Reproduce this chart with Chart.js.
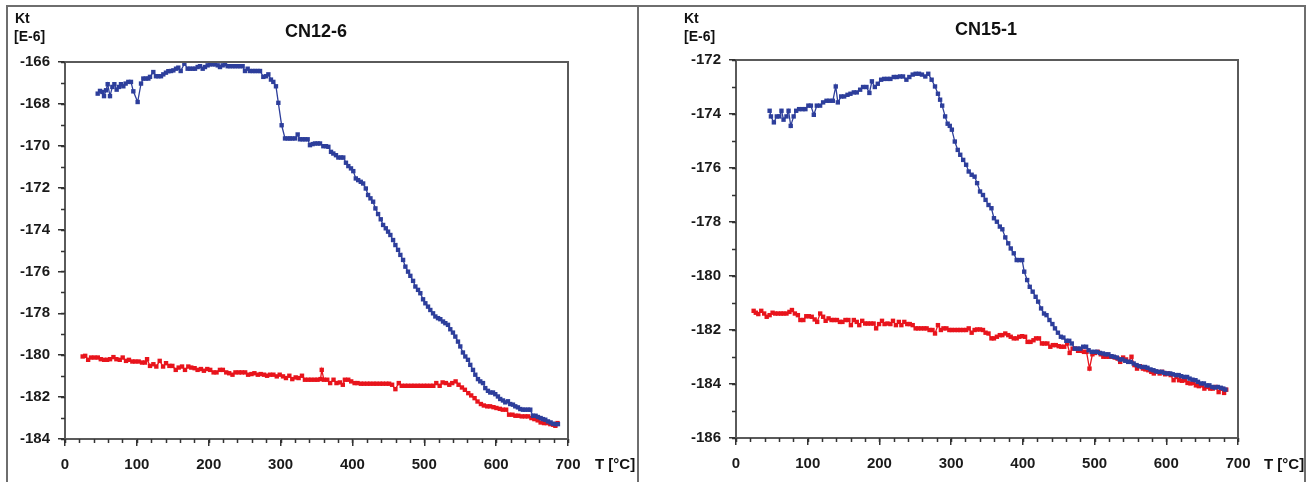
<!DOCTYPE html>
<html>
<head>
<meta charset="utf-8">
<script src="https://cdn.jsdelivr.net/npm/chart.js@4/dist/chart.umd.min.js"></script>
<style>
  html, body { margin:0; padding:0; background:#fff; }
  body { width:1316px; height:482px; position:relative; overflow:hidden; font-family:"Liberation Sans", Arial, sans-serif; }
  #frame { position:absolute; left:6px; top:5px; width:1300px; height:480px; border:2px solid #6e6e6e; border-bottom:none; box-sizing:border-box; }
  #sep { position:absolute; left:637px; top:5px; width:2px; height:477px; background:#6e6e6e; }
  canvas { position:absolute; top:0; }
  .t { position:absolute; color:#111; white-space:nowrap; line-height:1; }
  .title { font-size:18px; font-weight:bold; transform:translateX(-50%); }
  .unit { font-size:14px; font-weight:bold; }
  .xl { font-size:15px; font-weight:bold; }
</style>
</head>
<body>
<div id="frame"></div>
<div id="sep"></div>
<canvas id="c1" width="638" height="482" style="left:0px"></canvas>
<canvas id="c2" width="678" height="482" style="left:638px"></canvas>

<div class="t title" style="left:316px; top:22px;">CN12-6</div>
<div class="t unit" style="left:15px; top:11px;">Kt</div>
<div class="t unit" style="left:14px; top:29px;">[E-6]</div>
<div class="t xl" style="left:595px; top:456px;">T [°C]</div>

<div class="t title" style="left:986px; top:20px;">CN15-1</div>
<div class="t unit" style="left:684px; top:11px;">Kt</div>
<div class="t unit" style="left:684px; top:29px;">[E-6]</div>
<div class="t xl" style="left:1264px; top:456px;">T [°C]</div>

<script>
// ---------------- DATA ----------------
const titles = ["CN12-6", "CN15-1"];
const xTicks = [0, 100, 200, 300, 400, 500, 600, 700];
const yTicksLeft = [-184, -182, -180, -178, -176, -174, -172, -170, -168, -166];
const yTicksRight = [-186, -184, -182, -180, -178, -176, -174, -172];

// CN12-6, blue curve [T, Kt]
const blueLeft = [[45.5,-167.51],[48.7,-167.38],[52.0,-167.43],[54.3,-167.63],[57.1,-167.35],[59.4,-167.06],[62.6,-167.63],[65.9,-167.19],[68.7,-167.06],[71.9,-167.32],[75.1,-167.19],[77.9,-167.06],[81.2,-167.16],[84.4,-167.03],[88.1,-166.95],[91.8,-166.95],[95.1,-167.40],[101.1,-167.91],[105.8,-167.03],[109.0,-166.79],[112.3,-166.79],[116.0,-166.79],[118.3,-166.71],[122.9,-166.48],[126.6,-166.68],[129.9,-166.68],[133.6,-166.68],[136.8,-166.59],[140.5,-166.51],[143.8,-166.44],[147.5,-166.43],[150.8,-166.40],[154.5,-166.32],[157.7,-166.27],[161.0,-166.43],[166.1,-166.08],[170.7,-166.32],[174.0,-166.32],[177.7,-166.32],[180.9,-166.32],[184.6,-166.24],[187.9,-166.20],[191.6,-166.32],[194.8,-166.24],[198.5,-166.16],[201.8,-166.11],[205.5,-166.11],[208.7,-166.11],[212.5,-166.16],[215.7,-166.24],[219.4,-166.16],[222.7,-166.11],[226.4,-166.20],[229.6,-166.20],[233.3,-166.20],[236.6,-166.20],[240.3,-166.20],[243.5,-166.20],[247.2,-166.20],[250.5,-166.43],[254.2,-166.32],[257.4,-166.43],[261.2,-166.43],[264.4,-166.43],[268.1,-166.43],[271.4,-166.43],[276.0,-166.71],[279.7,-166.68],[283.0,-166.59],[286.6,-166.84],[289.9,-166.95],[293.6,-167.16],[296.9,-167.95],[301.5,-169.02],[306.2,-169.65],[309.9,-169.65],[313.1,-169.65],[316.4,-169.65],[320.1,-169.65],[323.8,-169.46],[327.0,-169.69],[330.7,-169.69],[334.0,-169.69],[337.7,-169.69],[340.9,-169.97],[344.6,-169.92],[347.9,-169.89],[351.6,-169.89],[354.9,-169.89],[359.5,-170.02],[363.2,-170.02],[366.5,-170.05],[370.2,-170.29],[373.4,-170.37],[377.1,-170.45],[380.4,-170.56],[384.1,-170.56],[387.3,-170.56],[391.0,-170.81],[394.3,-170.97],[398.0,-171.08],[401.2,-171.21],[404.7,-171.56],[408.0,-171.64],[411.6,-171.72],[414.9,-171.80],[418.6,-172.04],[421.8,-172.35],[425.1,-172.51],[428.8,-172.67],[432.0,-172.99],[435.7,-173.26],[439.4,-173.51],[442.7,-173.78],[446.4,-173.94],[449.6,-174.10],[452.8,-174.26],[456.6,-174.50],[459.8,-174.74],[463.5,-174.97],[466.7,-175.21],[470.5,-175.45],[473.7,-175.77],[477.4,-176.01],[480.6,-176.21],[484.4,-176.45],[487.6,-176.72],[491.3,-176.88],[494.5,-177.04],[498.3,-177.33],[501.5,-177.52],[505.2,-177.68],[508.4,-177.84],[512.2,-178.00],[515.4,-178.15],[519.1,-178.23],[522.3,-178.28],[526.1,-178.39],[529.3,-178.47],[533.0,-178.55],[536.2,-178.76],[539.9,-178.92],[543.2,-179.11],[546.9,-179.35],[550.1,-179.58],[553.8,-179.87],[557.1,-180.06],[560.8,-180.22],[564.0,-180.46],[567.8,-180.70],[571.0,-180.93],[574.7,-181.14],[577.9,-181.25],[581.7,-181.33],[584.9,-181.57],[588.6,-181.70],[591.8,-181.78],[595.6,-181.78],[598.8,-181.86],[602.5,-181.97],[605.7,-182.09],[609.5,-182.16],[612.7,-182.25],[616.4,-182.20],[619.6,-182.33],[623.4,-182.36],[626.6,-182.44],[630.3,-182.49],[633.6,-182.57],[637.3,-182.60],[640.5,-182.60],[644.2,-182.60],[647.5,-182.60],[651.2,-182.89],[654.9,-182.89],[658.2,-182.95],[661.9,-183.00],[665.1,-183.05],[668.4,-183.08],[672.1,-183.16],[675.8,-183.21],[679.0,-183.27],[682.8,-183.29],[686.0,-183.29]];

// CN12-6, red curve [T, Kt]
const redLeft = [[24.6,-180.06],[28.1,-180.03],[32.2,-180.22],[36.3,-180.11],[41.0,-180.11],[45.7,-180.11],[49.8,-180.19],[54.5,-180.22],[58.6,-180.22],[62.7,-180.19],[67.4,-180.09],[71.5,-180.19],[76.2,-180.22],[80.3,-180.11],[84.9,-180.27],[89.0,-180.22],[93.7,-180.30],[97.8,-180.30],[102.5,-180.30],[107.2,-180.35],[111.3,-180.35],[114.2,-180.19],[118.3,-180.51],[123.0,-180.43],[127.1,-180.54],[131.8,-180.27],[136.5,-180.54],[140.6,-180.38],[145.3,-180.51],[149.4,-180.51],[154.1,-180.70],[158.2,-180.59],[162.9,-180.54],[167.0,-180.70],[171.6,-180.54],[175.7,-180.59],[180.4,-180.62],[184.5,-180.70],[189.2,-180.66],[193.3,-180.74],[198.0,-180.66],[202.1,-180.70],[206.8,-180.82],[210.9,-180.82],[215.6,-180.70],[219.7,-180.70],[224.4,-180.82],[228.5,-180.86],[233.1,-180.93],[237.2,-180.82],[241.9,-180.82],[246.0,-180.82],[250.7,-180.82],[254.8,-180.93],[259.5,-180.90],[263.6,-180.86],[268.3,-180.93],[272.4,-180.90],[277.1,-180.93],[281.2,-180.98],[285.3,-180.93],[290.0,-180.93],[294.7,-181.01],[298.8,-180.93],[303.4,-181.01],[307.5,-181.09],[312.2,-180.98],[316.3,-181.14],[321.0,-181.06],[325.1,-181.09],[329.8,-180.98],[333.9,-181.17],[338.6,-181.17],[342.7,-181.17],[347.4,-181.17],[351.5,-181.17],[355.6,-181.14],[357.3,-180.70],[360.3,-181.17],[365.0,-181.17],[369.0,-181.33],[373.7,-181.17],[377.8,-181.33],[382.5,-181.30],[386.6,-181.41],[389.5,-181.17],[394.2,-181.17],[398.3,-181.25],[403.0,-181.33],[407.1,-181.33],[411.8,-181.36],[415.9,-181.36],[420.6,-181.36],[424.7,-181.36],[429.4,-181.36],[433.5,-181.36],[438.2,-181.36],[442.3,-181.36],[447.0,-181.36],[451.1,-181.36],[455.2,-181.41],[459.8,-181.62],[464.5,-181.33],[468.6,-181.46],[473.3,-181.46],[477.4,-181.46],[482.1,-181.46],[486.2,-181.46],[490.9,-181.46],[495.0,-181.46],[499.7,-181.46],[503.8,-181.46],[508.5,-181.46],[512.6,-181.46],[516.7,-181.33],[521.4,-181.46],[525.5,-181.30],[530.1,-181.33],[534.8,-181.41],[538.9,-181.33],[543.6,-181.25],[547.7,-181.41],[552.4,-181.54],[556.5,-181.65],[561.2,-181.81],[565.3,-181.92],[570.0,-182.05],[574.1,-182.21],[578.8,-182.33],[582.9,-182.40],[587.5,-182.44],[591.6,-182.44],[596.3,-182.48],[600.4,-182.52],[605.1,-182.56],[609.2,-182.60],[613.9,-182.60],[618.0,-182.84],[622.7,-182.84],[626.8,-182.89],[630.9,-182.89],[635.6,-182.92],[640.3,-182.92],[644.4,-182.92],[649.1,-183.00],[653.2,-183.05],[657.8,-183.11],[661.9,-183.21],[666.6,-183.24],[670.7,-183.24],[675.4,-183.29],[679.5,-183.32],[682.4,-183.37],[685.4,-183.24]];

// CN15-1, blue curve [T, Kt]
const blueRight = [[46.9,-173.88],[48.7,-174.09],[52.8,-174.31],[56.9,-174.09],[60.4,-174.09],[63.4,-173.88],[66.3,-174.21],[70.4,-174.09],[73.3,-173.88],[76.3,-174.44],[80.4,-174.09],[83.9,-173.88],[88.0,-173.82],[92.7,-173.82],[96.8,-173.82],[100.9,-173.69],[104.4,-173.69],[108.5,-174.03],[112.7,-173.69],[117.3,-173.69],[121.5,-173.57],[126.2,-173.51],[130.3,-173.51],[135.0,-173.51],[139.1,-172.98],[142.0,-173.57],[146.7,-173.35],[150.8,-173.35],[155.5,-173.29],[159.6,-173.25],[164.3,-173.20],[168.4,-173.20],[173.1,-173.10],[177.2,-173.00],[181.9,-173.00],[186.0,-173.22],[189.5,-172.79],[193.6,-173.00],[197.7,-172.88],[202.4,-172.73],[206.5,-172.70],[211.2,-172.70],[215.3,-172.70],[220.0,-172.63],[224.1,-172.63],[228.8,-172.61],[232.9,-172.61],[237.6,-172.73],[241.7,-172.63],[246.4,-172.54],[250.5,-172.51],[255.2,-172.51],[259.3,-172.54],[264.0,-172.61],[268.1,-172.51],[272.8,-172.73],[277.5,-172.98],[281.6,-173.25],[284.6,-173.47],[287.5,-173.69],[291.6,-174.09],[295.1,-174.36],[298.1,-174.44],[301.0,-174.58],[305.1,-175.02],[309.2,-175.33],[312.7,-175.51],[316.8,-175.70],[320.9,-175.88],[324.5,-176.13],[328.6,-176.25],[332.7,-176.32],[336.2,-176.56],[340.3,-176.87],[344.4,-177.00],[348.0,-177.18],[352.1,-177.37],[356.2,-177.49],[359.7,-177.86],[363.8,-177.99],[367.9,-178.17],[371.4,-178.27],[375.5,-178.57],[379.6,-178.79],[383.1,-178.98],[387.3,-179.16],[391.4,-179.41],[394.9,-179.41],[399.0,-179.41],[401.9,-179.84],[406.0,-180.15],[409.6,-180.40],[413.7,-180.58],[417.8,-180.77],[421.3,-180.95],[425.4,-181.20],[429.5,-181.39],[433.0,-181.45],[437.1,-181.63],[441.2,-181.78],[444.8,-181.94],[448.9,-182.10],[453.0,-182.25],[456.5,-182.28],[460.6,-182.40],[464.7,-182.40],[468.2,-182.50],[472.3,-182.69],[476.4,-182.69],[480.0,-182.69],[484.1,-182.62],[488.2,-182.62],[491.7,-182.75],[495.8,-182.81],[499.9,-182.81],[503.4,-182.81],[507.5,-182.85],[511.7,-182.87],[515.2,-182.90],[519.3,-182.90],[523.4,-182.97],[526.9,-182.99],[531.0,-183.02],[535.1,-183.09],[538.6,-183.09],[542.8,-183.14],[546.9,-183.18],[550.4,-183.18],[554.5,-183.24],[558.6,-183.30],[562.1,-183.34],[566.2,-183.37],[570.3,-183.37],[573.8,-183.40],[578.0,-183.46],[582.1,-183.49],[585.6,-183.53],[589.7,-183.55],[593.8,-183.55],[597.3,-183.59],[601.4,-183.61],[605.5,-183.61],[609.0,-183.64],[613.1,-183.67],[617.3,-183.67],[620.8,-183.71],[624.9,-183.74],[629.0,-183.74],[632.5,-183.80],[636.6,-183.84],[640.7,-183.86],[644.2,-183.92],[648.4,-183.98],[652.5,-183.98],[656.0,-184.05],[660.1,-184.05],[664.2,-184.11],[667.7,-184.13],[671.8,-184.11],[675.9,-184.14],[679.5,-184.17],[682.4,-184.21]];

// CN15-1, red curve [T, Kt]
const redRight = [[24.6,-181.29],[27.6,-181.36],[31.1,-181.41],[35.2,-181.29],[39.3,-181.39],[42.8,-181.51],[46.9,-181.45],[51.0,-181.36],[54.6,-181.39],[58.7,-181.39],[62.8,-181.39],[66.3,-181.39],[70.4,-181.39],[74.5,-181.33],[78.0,-181.26],[82.1,-181.39],[86.3,-181.45],[89.8,-181.63],[93.9,-181.63],[98.0,-181.49],[101.5,-181.49],[105.6,-181.51],[109.7,-181.61],[113.2,-181.70],[117.4,-181.39],[121.5,-181.51],[125.0,-181.66],[129.1,-181.57],[133.2,-181.63],[136.7,-181.63],[140.8,-181.63],[144.9,-181.70],[148.4,-181.70],[152.6,-181.63],[156.7,-181.63],[160.2,-181.82],[164.3,-181.63],[168.4,-181.70],[171.9,-181.82],[176.0,-181.66],[180.1,-181.76],[183.7,-181.76],[187.8,-181.76],[191.9,-181.76],[195.4,-181.94],[199.5,-181.78],[203.6,-181.66],[207.1,-181.78],[211.2,-181.76],[215.3,-181.78],[218.9,-181.66],[223.0,-181.82],[227.1,-181.70],[230.6,-181.82],[234.7,-181.70],[238.8,-181.78],[242.3,-181.78],[246.4,-181.82],[250.5,-181.94],[254.1,-181.94],[258.2,-181.94],[262.3,-181.94],[265.8,-181.94],[269.9,-182.00],[274.0,-182.00],[277.5,-182.13],[281.6,-181.82],[285.7,-182.00],[289.3,-181.94],[293.4,-181.94],[297.5,-182.00],[301.0,-182.00],[305.1,-182.00],[309.2,-182.00],[312.7,-182.00],[316.8,-182.00],[320.9,-182.00],[324.5,-181.94],[328.6,-182.10],[332.7,-182.00],[336.2,-181.98],[340.3,-181.98],[344.4,-182.00],[348.0,-182.10],[352.1,-182.13],[356.2,-182.31],[359.7,-182.31],[363.8,-182.25],[367.9,-182.19],[371.4,-182.19],[375.5,-182.13],[379.6,-182.19],[383.1,-182.25],[387.3,-182.31],[391.4,-182.31],[394.9,-182.25],[399.0,-182.23],[403.1,-182.25],[406.6,-182.44],[410.7,-182.44],[414.8,-182.38],[418.4,-182.31],[422.5,-182.31],[426.6,-182.50],[430.1,-182.50],[434.2,-182.50],[438.3,-182.62],[441.8,-182.56],[445.9,-182.56],[450.0,-182.60],[453.6,-182.62],[457.7,-182.62],[461.8,-182.50],[465.3,-182.85],[469.4,-182.69],[473.5,-182.69],[477.0,-182.77],[481.1,-182.77],[485.2,-182.81],[488.8,-182.81],[492.9,-183.43],[497.0,-182.90],[500.5,-182.85],[504.6,-182.81],[508.7,-182.90],[512.2,-182.99],[516.3,-182.99],[520.4,-182.99],[524.0,-182.99],[528.1,-183.02],[532.2,-183.06],[535.7,-183.18],[539.8,-183.02],[543.9,-183.09],[547.4,-183.18],[551.5,-182.99],[555.6,-183.30],[559.2,-183.43],[563.3,-183.34],[567.4,-183.43],[570.9,-183.46],[575.0,-183.49],[579.1,-183.55],[582.6,-183.61],[586.7,-183.55],[590.8,-183.61],[594.4,-183.55],[598.5,-183.64],[602.6,-183.61],[606.1,-183.67],[610.2,-183.86],[614.3,-183.74],[617.8,-183.86],[621.9,-183.88],[626.0,-183.86],[629.6,-183.96],[633.7,-183.98],[637.8,-183.96],[641.3,-184.05],[645.4,-184.08],[649.5,-184.05],[653.1,-184.17],[657.2,-184.11],[661.3,-184.17],[664.8,-184.17],[668.9,-184.11],[673.0,-184.30],[676.5,-184.17],[680.6,-184.33],[683.6,-184.21]];

// ---------------- STYLE / BUILD ----------------
const BLUE = '#2d3e9b';
const RED = '#e8141c';
const FONT = { family: '"Liberation Sans", Arial, sans-serif', size: 15, weight: 'bold' };

const toXY = arr => arr.map(p => ({ x: p[0], y: p[1] }));

function ds(arr, color) {
  return {
    data: toXY(arr),
    showLine: true,
    borderColor: color,
    backgroundColor: color,
    borderWidth: 1.3,
    pointStyle: 'rect',
    pointRadius: 3.1,
    pointBorderWidth: 0,
    pointHoverRadius: 3.1,
    tension: 0
  };
}

// frame + minor ticks plugin
const framePlugin = {
  id: 'frame',
  afterDraw(chart) {
    const { ctx, chartArea: a, scales } = chart;
    ctx.save();
    ctx.strokeStyle = '#5a5a5a';
    ctx.lineWidth = 2;
    ctx.strokeRect(a.left, a.top, a.right - a.left, a.bottom - a.top);
    // minor ticks
    ctx.strokeStyle = '#333';
    ctx.lineWidth = 1.5;
    const xs = scales.x, ys = scales.y;
    ctx.beginPath();
    for (let v = xs.min; v <= xs.max + 0.001; v += 20) {
      const px = Math.round(xs.getPixelForValue(v)) + 0.5;
      ctx.moveTo(px, a.bottom);
      ctx.lineTo(px, a.bottom + 4);
    }
    for (let v = ys.min; v <= ys.max + 0.001; v += 1) {
      const py = Math.round(ys.getPixelForValue(v)) + 0.5;
      ctx.moveTo(a.left, py);
      ctx.lineTo(a.left - 4, py);
    }
    ctx.stroke();
    ctx.restore();
  }
};

function makeChart(id, blue, red, ymin, ymax, yTicks, padding) {
  return new Chart(document.getElementById(id), {
    type: 'scatter',
    data: { datasets: [ds(blue, BLUE), ds(red, RED)] },
    options: {
      responsive: false,
      animation: false,
      events: [],
      layout: { padding },
      plugins: { legend: { display: false }, title: { display: false }, tooltip: { enabled: false } },
      scales: {
        x: {
          type: 'linear', min: 0, max: 700,
          afterBuildTicks: s => { s.ticks = xTicks.map(v => ({ value: v })); },
          ticks: { font: FONT, color: '#1a1a1a', padding: 10, autoSkip: false, maxRotation: 0 },
          grid: { drawOnChartArea: false, drawTicks: true, tickLength: 7, color: '#333', lineWidth: 1.5 },
          border: { display: true, color: '#5a5a5a', width: 2 },
          afterFit: s => { s.height = 40; }
        },
        y: {
          type: 'linear', min: ymin, max: ymax,
          afterBuildTicks: s => { s.ticks = yTicks.map(v => ({ value: v })); },
          ticks: { font: FONT, color: '#1a1a1a', padding: 8, autoSkip: false },
          grid: { drawOnChartArea: false, drawTicks: true, tickLength: 7, color: '#333', lineWidth: 1.5 },
          border: { display: true, color: '#5a5a5a', width: 2 },
          afterFit: s => { s.width = 50; }
        }
      }
    },
    plugins: [framePlugin]
  });
}

makeChart('c1', blueLeft, redLeft, -184, -166, yTicksLeft, { left: 15, right: 70, top: 62, bottom: 3 });
makeChart('c2', blueRight, redRight, -186, -172, yTicksRight, { left: 48, right: 78, top: 60, bottom: 4 });
</script>
</body>
</html>
